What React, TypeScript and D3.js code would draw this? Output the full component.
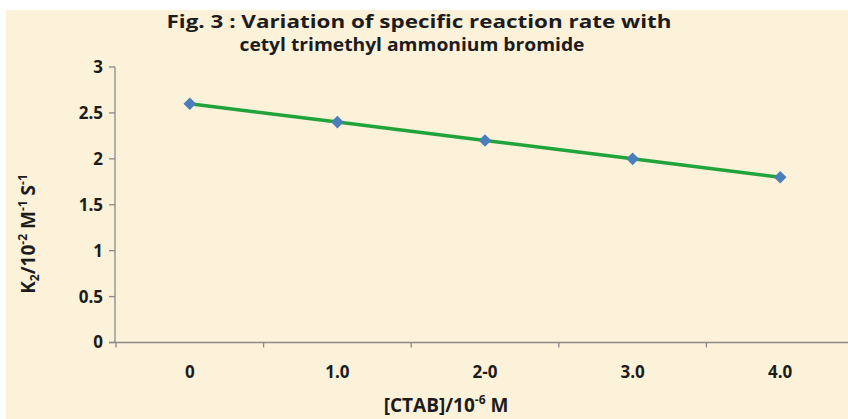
import React from "react";
import * as d3 from "d3";

const categories = ["0", "1.0", "2-0", "3.0", "4.0"];
const values = [2.6, 2.4, 2.2, 2.0, 1.8];
const yTicks = [0, 0.5, 1, 1.5, 2, 2.5, 3];
const yTickLabels = ["0", "0.5", "1", "1.5", "2", "2.5", "3"];
const titleLines = [
  "Fig. 3 : Variation of specific reaction rate with",
  "cetyl trimethyl ammonium  bromide",
];

const W = 848;
const H = 419;
const FONT = "'Open Sans', Lato, sans-serif";
const INK = "#1c1c1c";

export default function App() {
  const x = d3.scaleBand<string>().domain(categories).range([116, 854]).padding(0);
  const y = d3.scaleLinear().domain([0, 3]).range([342.5, 67]);
  const cx = (c: string) => (x(c) as number) + x.bandwidth() / 2;
  const line = d3
    .line<number>()
    .x((_, i) => cx(categories[i]))
    .y((d) => y(d));
  const marker = d3.symbol().type(d3.symbolSquare).size(80);
  const axisColor = "#8a8a8a";
  const tickBounds = categories.map((c) => x(c) as number).concat([x.range()[1]]);
  const titleGeom = [
    { cx: 419, y: 28, len: 505 },
    { cx: 412, y: 51, len: 345 },
  ];

  return (
    <div style={{ position: "fixed", left: 0, top: 0, width: W, height: H }}>
      <svg width={W} height={H} style={{ display: "block" }}>
        <rect x={0} y={0} width={W} height={H} fill="#ffffff" />
        <rect x={6} y={10} width={W - 6} height={H - 10} fill="#fcf1d9" />
        {/* title */}
        {titleLines.map((t, i) => (
          <text
            key={i}
            x={titleGeom[i].cx}
            y={titleGeom[i].y}
            textAnchor="middle"
            fontFamily={FONT}
            fontWeight="bold"
            fontSize={18}
            textLength={titleGeom[i].len}
            lengthAdjust="spacingAndGlyphs"
            fill={INK}
          >
            {t}
          </text>
        ))}
        {/* y axis */}
        <line x1={115} x2={115} y1={y(3)} y2={y(0)} stroke={axisColor} strokeWidth={1.3} />
        {yTicks.map((t, i) => (
          <g key={t}>
            <line x1={109} x2={115} y1={y(t)} y2={y(t)} stroke={axisColor} strokeWidth={1.3} />
            <text
              x={103}
              y={y(t)}
              dy="0.35em"
              textAnchor="end"
              fontFamily={FONT}
              fontWeight="bold"
              fontSize={17}
              fill={INK}
            >
              {yTickLabels[i]}
            </text>
          </g>
        ))}
        {/* x axis */}
        <line x1={109} x2={W} y1={y(0)} y2={y(0)} stroke={axisColor} strokeWidth={1.3} />
        {tickBounds.map((b, i) => (
          <line key={i} x1={b} x2={b} y1={y(0)} y2={y(0) + 5} stroke={axisColor} strokeWidth={1.3} />
        ))}
        {categories.map((c) => (
          <text
            key={c}
            x={cx(c)}
            y={378}
            textAnchor="middle"
            fontFamily={FONT}
            fontWeight="bold"
            fontSize={17}
            fill={INK}
          >
            {c}
          </text>
        ))}
        {/* axis titles */}
        <text
          x={446}
          y={412}
          textAnchor="middle"
          fontFamily={FONT}
          fontWeight="bold"
          fontSize={19}
          fill={INK}
        >
          [CTAB]/10
          <tspan dy={-8} fontSize={12}>-6</tspan>
          <tspan dy={8}> M</tspan>
        </text>
        <text
          transform={`translate(35, 234) rotate(-90)`}
          textAnchor="middle"
          fontFamily={FONT}
          fontWeight="bold"
          fontSize={19}
          fill={INK}
        >
          K
          <tspan dy={4} fontSize={12}>2</tspan>
          <tspan dy={-4}>/10</tspan>
          <tspan dy={-8} fontSize={12}>-2</tspan>
          <tspan dy={8}> M</tspan>
          <tspan dy={-8} fontSize={12}>-1</tspan>
          <tspan dy={8}> S</tspan>
          <tspan dy={-8} fontSize={12}>-1</tspan>
        </text>
        {/* series */}
        <path d={line(values) || ""} fill="none" stroke="#1fa33a" strokeWidth={3.5} />
        {values.map((v, i) => (
          <path
            key={i}
            d={marker() || ""}
            transform={`translate(${cx(categories[i])},${y(v)}) rotate(45)`}
            fill="#4a7ebb"
          />
        ))}
      </svg>
    </div>
  );
}
